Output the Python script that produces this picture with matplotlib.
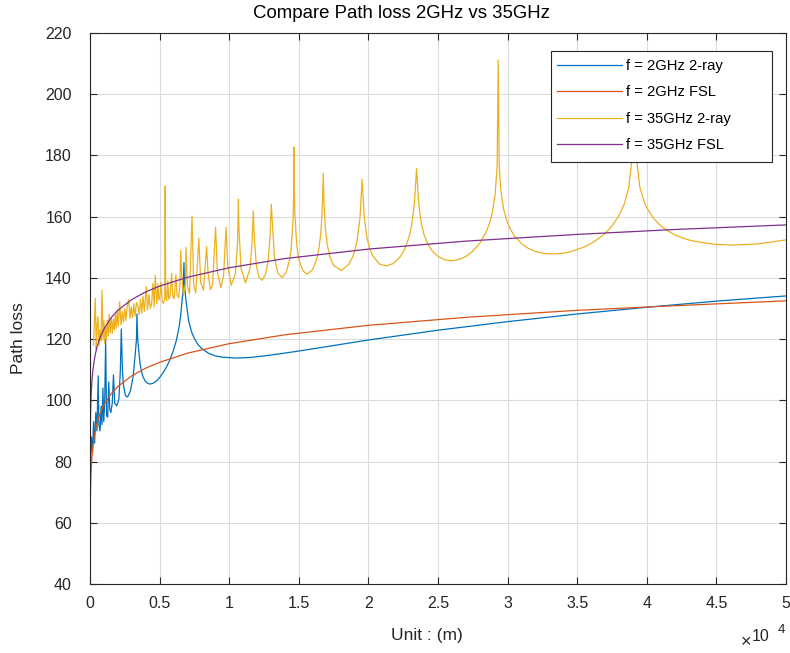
import matplotlib
matplotlib.use('Agg')
import matplotlib.pyplot as plt
from matplotlib.patches import Rectangle

plt.rcParams['font.family'] = ['Liberation Sans', 'DejaVu Sans']

# distance (m) / path loss (dB)
fsl_d = [12, 15, 20, 30, 45, 60, 80, 100, 140, 200, 300, 400, 500, 700, 1000,
         1500, 2000, 3000, 4000, 5000, 7000, 10000, 14000, 20000, 27000, 35000,
         42000, 50000]
fsl_2g = [60.0, 62.1, 64.5, 68.0, 71.5, 74.0, 76.5, 78.5, 81.4, 84.5, 88.0, 90.5,
          92.4, 95.4, 98.5, 102.0, 104.5, 108.0, 110.5, 112.4, 115.4, 118.5, 121.4,
          124.5, 127.1, 129.4, 130.9, 132.5]
fsl_35g = [84.9, 86.9, 89.4, 92.9, 96.4, 98.9, 101.4, 103.3, 106.3, 109.4, 112.9,
           115.4, 117.3, 120.2, 123.3, 126.9, 129.4, 132.9, 135.4, 137.3, 140.2,
           143.3, 146.3, 149.4, 152.0, 154.2, 155.8, 157.3]

ray_2g_d = [36, 110, 180, 260, 330, 420, 500, 590, 640, 720, 800, 860, 930, 990,
            1060, 1125, 1190, 1270, 1350, 1420, 1500, 1600, 1687, 1780, 1929, 2080,
            2180, 2250, 2330, 2400, 2550, 2700, 2900, 3100, 3250, 3340, 3375, 3430,
            3500, 3600, 3700, 3800, 3950, 4100, 4300, 4500, 4750, 5000, 5250, 5500,
            5750, 6000, 6200, 6400, 6500, 6600, 6700, 6750, 6800, 6900, 7100, 7300,
            7500, 7750, 8000, 8500, 9000, 9500, 10500, 11500, 12500, 13500, 15000,
            17500, 20000, 22500, 25000, 30000, 35000, 40000, 45000, 50000]
ray_2g = [79, 88, 83, 93, 86, 96, 90, 108, 92, 90, 98, 92, 104, 93, 100, 120, 95,
          94.5, 106, 97, 96, 99, 108.3, 99, 98.2, 100.5, 109.7, 123.3, 109.8, 105.2,
          101.5, 101.1, 103.0, 107.8, 115.1, 120, 128.2, 120, 116.4, 111.9, 109.4,
          107.8, 106.4, 105.7, 105.3, 105.5, 106.2, 107.4, 109.0, 110.9, 113.3,
          116.4, 119.5, 123.9, 127.1, 131.8, 137, 145.0, 137, 132.5, 125.7, 122.3,
          120.2, 118.3, 117.0, 115.4, 114.5, 114.1, 113.8, 114.0, 114.5, 115.1,
          116.1, 117.9, 119.7, 121.3, 122.9, 125.7, 128.2, 130.4, 132.4, 134.1]

ray_35g_d = [251, 323, 381, 453, 503, 575, 647, 718, 790, 862, 934, 1006, 1056, 1114,
             1185, 1243, 1315, 1387, 1458, 1530, 1602, 1674, 1746, 1818, 1889, 1961,
             2033, 2134, 2227, 2320, 2407, 2500, 2586, 2680, 2780, 2874, 2967, 3053,
             3147, 3233, 3341, 3448, 3542, 3628, 3721, 3808, 3901, 4045, 4131, 4239,
             4332, 4432, 4526, 4612, 4691, 4799, 4885, 4943, 5029, 5101, 5194, 5266,
             5374, 5402, 5438, 5517, 5589, 5661, 5747, 5869, 5941, 6049, 6171, 6250,
             6365, 6466, 6516, 6588, 6710, 6853, 6897, 7000, 7150, 7331, 7450, 7600,
             7820, 7950, 8150, 8379, 8480, 8650, 8800, 9023, 9150, 9400, 9600, 9775,
             9900, 10150, 10450, 10600, 10630, 10664, 10700, 10850, 11170, 11500,
             11650, 11700, 11730, 11760, 11800, 11950, 12150, 12370, 12600, 12800,
             12950, 12990, 13033, 13080, 13250, 13500, 13800, 14100, 14350, 14450,
             14600, 14640, 14663, 14690, 14720, 14850, 14950, 15050, 15300, 15600,
             16000, 16300, 16450, 16600, 16700, 16757, 16810, 16900, 17050, 17250,
             17500, 18050, 18600, 18900, 19050, 19200, 19400, 19480, 19550, 19620,
             19700, 19900, 20100, 20300, 20800, 21300, 21800, 22300, 22550, 22800,
             22950, 23100, 23300, 23350, 23460, 23570, 23650, 23800, 24000, 24300,
             24600, 25000, 25500, 26000, 26500, 27000, 27500, 28000, 28500, 28700,
             28900, 29100, 29250, 29325, 29400, 29500, 29700, 29900, 30200, 30500,
             31000, 31500, 32000, 32600, 33300, 34000, 34500, 35500, 36000, 36500,
             37000, 37500, 38000, 38400, 38700, 39000, 39100, 39200, 39500, 39800,
             40000, 40500, 41000, 41500, 42000, 42500, 43000, 43500, 44800, 46200,
             48000, 50000]
ray_35g = [118, 126, 133.3, 116.5, 124, 127.3, 118, 123, 119.5, 136, 120, 126, 118.6,
           124, 120, 126.2, 121, 128, 122, 127, 121.9, 126.5, 123, 128, 123.5, 129.5,
           124.3, 132.2, 124.6, 129, 125.5, 130, 126, 131, 132.8, 126.8, 130.5, 127,
           131.5, 127.5, 132, 130.6, 128, 133, 128.4, 134, 129, 137.1, 129.5, 134.5,
           130, 131.7, 138.2, 130.5, 140.9, 131.5, 138, 132.8, 134, 138.5, 132, 131.7,
           133, 170, 134, 132.5, 139, 133, 134, 141.5, 134, 133.2, 141, 134.5, 133.5,
           138, 149, 141, 134.2, 138, 150, 137.4, 134.8, 160.2, 137.6, 135.1, 153.0,
           138.5, 136.0, 150.2, 141.7, 136.2, 137.5, 156.5, 142.0, 136.8, 140.9,
           156.5, 144.0, 137.6, 141.4, 151.6, 157.1, 165.7, 156.5, 143.1, 138.3,
           143.1, 152.0, 158, 161.9, 158, 153.4, 144.1, 140.1, 139.2, 141.0, 145.6,
           154.4, 160.1, 163.9, 159.6, 146.8, 141.6, 140.1, 141.8, 146.1, 149.4,
           160.0, 168.9, 182.7, 167.2, 160.8, 150.9, 147.5, 145.3, 142.3, 141.2,
           142.7, 146.3, 149.6, 155.4, 164.2, 174.2, 165.0, 156.5, 150.6, 146.7,
           144.1, 142.4, 144.4, 147.2, 149.4, 152.4, 159.8, 166.5, 172.2, 166.6,
           160.1, 153.0, 149.5, 147.3, 144.5, 143.9, 144.7, 147.0, 148.9, 151.6,
           153.9, 156.9, 164.0, 167.3, 175.7, 167.5, 162.8, 157.9, 154.1, 150.8,
           148.7, 147.0, 145.9, 145.6, 146.0, 147.0, 148.7, 151.3, 155.4, 157.8,
           161.2, 166.9, 176.4, 211.2, 176.6, 169.3, 162.8, 159.3, 155.9, 153.6,
           151.2, 149.6, 148.6, 148.0, 147.8, 148.05, 148.5, 150.1, 151.2, 152.7,
           154.5, 156.9, 160.3, 164.3, 169.3, 181.5, 195, 181.5, 169.6, 165.0,
           162.9, 159.4, 157.0, 155.4, 154.1, 153.2, 152.4, 151.9, 151.0, 150.7,
           151.1, 152.4]

x_ticks = [0, 5000, 10000, 15000, 20000, 25000, 30000, 35000, 40000, 45000, 50000]
x_tick_labels = ['0', '0.5', '1', '1.5', '2', '2.5', '3', '3.5', '4', '4.5', '5']
y_ticks = [40, 60, 80, 100, 120, 140, 160, 180, 200, 220]

fig = plt.figure(figsize=(7.9, 6.53), dpi=100)
ax = fig.add_axes([0.1139, 0.1057, 0.881, 0.8438])

lw = 0.9
ax.plot(ray_2g_d, ray_2g, color='#0072BD', lw=lw, label='f = 2GHz 2-ray')
ax.plot(fsl_d, fsl_2g, color='#D95319', lw=lw, label='f = 2GHz FSL')
ax.plot(ray_35g_d, ray_35g, color='#EDB120', lw=lw, label='f = 35GHz 2-ray')
ax.plot(fsl_d, fsl_35g, color='#7E2F8E', lw=lw, label='f = 35GHz FSL')

ax.set_xlim(0, 50000)
ax.set_ylim(40, 220)
ax.set_xticks(x_ticks)
ax.set_xticklabels(x_tick_labels)
ax.set_yticks(y_ticks)

ax.grid(True, color='#dcdcdc', lw=0.8)
ax.set_axisbelow(True)
for s in ax.spines.values():
    s.set_color('#262626')
    s.set_linewidth(0.8)
ax.tick_params(direction='in', top=True, right=True, length=5, width=0.8,
               colors='#262626', labelsize=11.5)
ax.tick_params(axis='x', pad=9)
ax.tick_params(axis='y', pad=13)

ax.set_title('Compare Path loss 2GHz vs 35GHz', fontsize=13.4, color='#000000',
             pad=11, x=0.447)
ax.set_xlabel('Unit : (m)', fontsize=12.5, color='#262626')
ax.xaxis.set_label_coords(0.484, -0.079)
ax.set_ylabel('Path loss', fontsize=12.5, color='#262626')
ax.yaxis.set_label_coords(-0.092, 0.4465)

fig.text(0.944, 0.003, '×', fontsize=13, color='#262626', ha='center', va='bottom')
fig.text(0.951, 0.014, '10', fontsize=11.5, color='#262626', ha='left', va='bottom')
fig.text(0.985, 0.026, '4', fontsize=9.5, color='#262626', ha='left', va='bottom')

# legend box drawn by hand (MATLAB leaves extra room on the right)
ax.add_patch(Rectangle((0.6624, 0.7653), 0.3171, 0.2026, transform=ax.transAxes,
                       facecolor='white', edgecolor='#262626', lw=0.8,
                       zorder=4.5, clip_on=False))
ax.legend(loc='upper left', bbox_to_anchor=(0.6714, 0.9528), fontsize=10.6,
          handlelength=4.38, handletextpad=0.3, labelspacing=0.84, borderpad=0,
          borderaxespad=0, frameon=False)

fig.savefig('out.png', dpi=100)
